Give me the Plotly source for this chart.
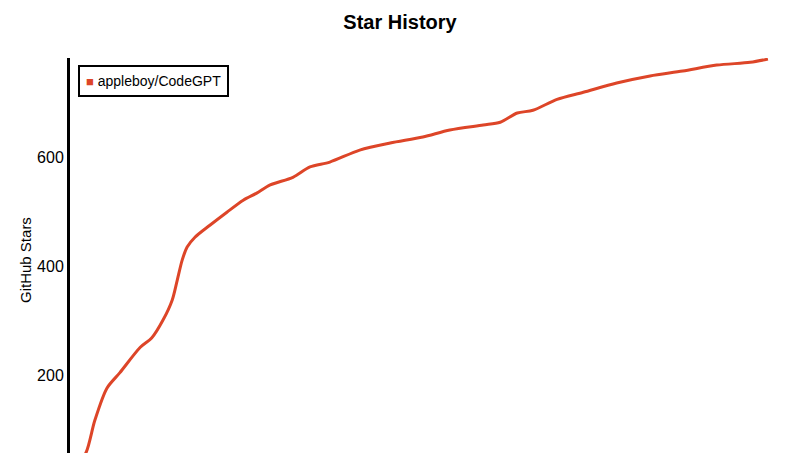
"""Star history chart (hand-drawn look, approximated with plain Plotly)."""
import plotly.graph_objects as go

REPO = "appleboy/CodeGPT"
LINE_COLOR = "#dd4528"

# days since the first star
days = [0.5, 2.3, 3.5, 5.2, 7.0, 9.9, 11.5, 13.1, 14.4, 15.1, 15.8, 16.5,
        17.6, 19.7, 22.1, 24.4, 26.3, 28.2, 31.4, 33.8, 36.6, 40.8, 45.1,
        49.7, 53.5, 58.2, 60.6, 63.0, 65.2, 68.6, 72.3, 77.0, 81.7, 86.3,
        91.1, 95.8, 98.3]
stars = [20, 59, 117, 176, 204, 251, 268, 301, 338, 374, 411, 435,
         453, 475, 499, 521, 534, 549, 563, 582, 591, 613, 626,
         637, 650, 659, 664, 681, 686, 706, 719, 736, 749, 758,
         769, 774, 780]
y_ticks = [200, 400, 600]

fig = go.Figure()
fig.add_trace(go.Scatter(x=days, y=stars, mode="lines", name=REPO,
                         showlegend=False,
                         line=dict(color=LINE_COLOR, width=3, shape="spline",
                                   smoothing=0.8)))

# legend drawn as a boxed label so the swatch sits close to the text
fig.add_annotation(
    text=f"<span style='font-size:13px;color:{LINE_COLOR}'>■</span> {REPO}",
    xref="paper", yref="paper", x=0.0113, y=0.982,
    xanchor="left", yanchor="top", showarrow=False, align="left",
    font=dict(size=14), bordercolor="black", borderwidth=2, borderpad=6,
    bgcolor="white",
)
# y-axis title (the original plot runs past the bottom edge, so it sits lower)
fig.add_annotation(
    text="GitHub Stars", textangle=-90, xref="paper", yref="paper",
    x=-0.0634, y=0.4886, xanchor="center", yanchor="middle",
    showarrow=False, font=dict(size=15),
)

fig.update_layout(
    width=800,
    height=453,
    paper_bgcolor="white",
    plot_bgcolor="white",
    font=dict(family="Liberation Sans, Arial, sans-serif", color="black", size=14),
    title=dict(text="<b>Star History</b>", x=0.5, xanchor="center",
               y=1 - 22 / 453, yanchor="middle", yref="container",
               font=dict(size=20)),
    margin=dict(l=70, r=20, t=58, b=0),
    showlegend=False,
)
fig.update_xaxes(range=[0, 100], showgrid=False, zeroline=False,
                 showticklabels=False, showline=False, ticks="")
fig.update_yaxes(range=[57, 782], showgrid=False, zeroline=False,
                 tickvals=y_ticks, ticks="", showline=True, linecolor="black",
                 linewidth=3, automargin=False, tickfont=dict(size=16))

# drop the default body margin so the figure sits at the window's corner
fig.write_html("out.html", config={"displayModeBar": False},
               post_script="document.body.style.margin='0';")
